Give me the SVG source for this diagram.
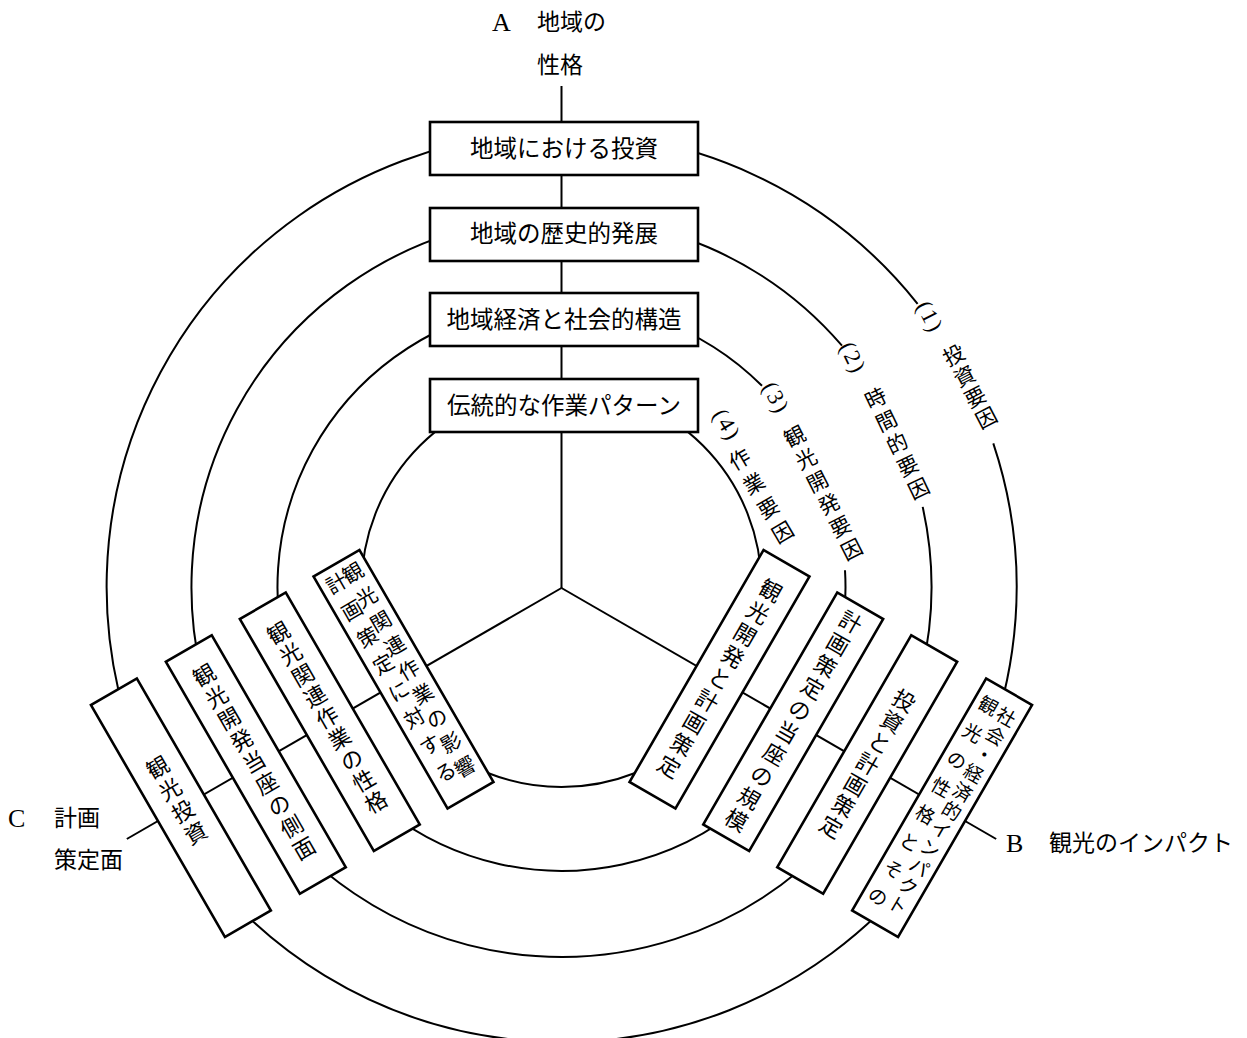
<svg xmlns="http://www.w3.org/2000/svg" width="1247" height="1038" viewBox="0 0 1247 1038">
<style>
.ring{fill:none;stroke:#000;stroke-width:2}
.spoke{fill:none;stroke:#000;stroke-width:2}
.box{fill:#fff;stroke:#000;stroke-width:2.6}
text{font-family:"Liberation Serif","Noto Sans CJK JP",serif;fill:#000}
.t{font-size:23.5px;text-anchor:middle;dominant-baseline:central}
.v{font-size:22px;text-anchor:middle;dominant-baseline:central}
.v2{font-size:19px;text-anchor:middle;dominant-baseline:central}
.v3{font-size:20.5px;text-anchor:middle;dominant-baseline:central}
.lab{font-size:21px;text-anchor:middle;dominant-baseline:central}
.num{font-size:23px;text-anchor:middle;dominant-baseline:central;letter-spacing:2px}
.head{font-size:23px;dominant-baseline:central}
.lat{font-size:26px}
</style>
<rect width="1247" height="1038" fill="#fff"/>

<g id="connectors">
  <path class="ring" d="M993.3 443.4 A455 455 0 1 1 917.6 303.8"/>
  <path class="ring" d="M922.7 506.9 A370 370 0 1 1 842.0 345.7"/>
  <path class="ring" d="M845.0 570.2 A284 284 0 1 1 762.0 385.8"/>
  <circle class="ring" cx="561.5" cy="587" r="200"/>
  <line class="spoke" x1="561.5" y1="588" x2="561.5" y2="86"/>
  <line class="spoke" x1="561.5" y1="588" x2="996.2" y2="839"/>
  <line class="spoke" x1="561.5" y1="588" x2="126.8" y2="839"/>
</g>

<g id="a1"><rect class="box" x="430" y="122" width="268" height="53"/><text class="t" x="564" y="148.5">地域における投資</text></g>
<g id="a2"><rect class="box" x="430" y="208" width="268" height="53"/><text class="t" x="564" y="234">地域の歴史的発展</text></g>
<g id="a3"><rect class="box" x="430" y="293" width="268" height="53"/><text class="t" x="564" y="319.5">地域経済と社会的構造</text></g>
<g id="a4"><rect class="box" x="430" y="379" width="268" height="53"/><text class="t" x="564" y="405.5">伝統的な作業パターン</text></g>

<g id="b1" transform="translate(942.1,807.75) rotate(30)">
  <rect class="box" x="-26.5" y="-134" width="53" height="268"/>
  <text class="v2" x="10 10 10 10 10 10 10 10 10 10 10" y="-110 -88.3 -66.6 -44.9 -23.2 -1.5 20.2 41.9 63.6 85.3 107">社会・経済的インパクト</text>
  <text class="v2" x="-11 -11 -11 -11 -11 -11 -11 -11" y="-111 -79.5 -48 -16.5 15 46.5 78 109.5">観光の性格とその</text>
</g>
<g id="b2" transform="translate(867.2,764.5) rotate(30)">
  <rect class="box" x="-26.5" y="-134" width="53" height="268"/>
  <text class="v" x="0 0 0 0 0 0 0" y="-72.9 -48.6 -24.3 0 24.3 48.6 72.9">投資と計画策定</text>
</g>
<g id="b3" transform="translate(793.2,721.75) rotate(30)">
  <rect class="box" x="-26.5" y="-134" width="53" height="268"/>
  <text class="v" x="0 0 0 0 0 0 0 0 0 0" y="-114.3 -88.9 -63.5 -38.1 -12.7 12.7 38.1 63.5 88.9 114.3">計画策定の当座の規模</text>
</g>
<g id="b4" transform="translate(719.5,679.25) rotate(30)">
  <rect class="box" x="-26.5" y="-134" width="53" height="268"/>
  <text class="v" x="0 0 0 0 0 0 0 0 0" y="-101.6 -76.2 -50.8 -25.4 0 25.4 50.8 76.2 101.6">観光開発と計画策定</text>
</g>

<g id="c1" transform="translate(180.9,807.75) rotate(-30)">
  <rect class="box" x="-26.5" y="-134" width="53" height="268"/>
  <text class="v" x="0 0 0 0" y="-45.8 -20.5 4.8 30.1">観光投資</text>
</g>
<g id="c2" transform="translate(255.8,764.5) rotate(-30)">
  <rect class="box" x="-26.5" y="-134" width="53" height="268"/>
  <text class="v" x="0 0 0 0 0 0 0 0 0" y="-102.4 -77.4 -52.4 -27.4 -2.4 22.6 47.6 72.6 97.6">観光開発当座の側面</text>
</g>
<g id="c3" transform="translate(329.8,721.75) rotate(-30)">
  <rect class="box" x="-26.5" y="-134" width="53" height="268"/>
  <text class="v" x="0 0 0 0 0 0 0 0 0" y="-102 -77.6 -53.2 -28.8 -4.4 20 44.4 68.8 93.2">観光関連作業の性格</text>
</g>
<g id="c4" transform="translate(403.5,679.25) rotate(-30)">
  <rect class="box" x="-26.5" y="-134" width="53" height="268"/>
  <text class="v3" x="9.4 9.4 9.4 9.4 9.4 9.4 9.4 9.4 9.4" y="-117 -89 -61 -33 -5 23 51 79 107">観光関連作業の影響</text>
  <text class="v3" x="-10 -10 -10 -10 -10 -10 -10 -10" y="-116 -84.9 -53.7 -22.6 8.6 39.7 70.9 102">計画策定に対する</text>
</g>

<g id="ring-labels">
  <text class="num" transform="translate(930,317) rotate(62.5)">(1)</text>
  <text class="lab" transform="translate(954,356) rotate(-27.5)" x="0 0 0 0" y="0 23.5 47 70.5">投資要因</text>
  <text class="num" transform="translate(853,358) rotate(64.5)">(2)</text>
  <text class="lab" transform="translate(876,399) rotate(-25.5)" x="0 0 0 0 0" y="0 25 50 75 100">時間的要因</text>
  <text class="num" transform="translate(776,398) rotate(63)">(3)</text>
  <text class="lab" transform="translate(795,437) rotate(-26.8)" x="0 0 0 0 0 0" y="0 25.3 50.6 75.9 101.2 126.5">観光開発要因</text>
  <text class="num" transform="translate(727,425) rotate(59)">(4)</text>
  <text class="lab" transform="translate(740,460) rotate(-30.5)" x="0 0 0 0" y="0 28.2 56.4 84.6">作業要因</text>
</g>

<g id="axis-labels">
  <text class="head" x="492" y="22"><tspan class="lat">A</tspan><tspan x="537">地域の</tspan></text>
  <text class="head" x="537" y="65">性格</text>
  <text class="head" x="1006" y="843"><tspan class="lat">B</tspan><tspan x="1049">観光のインパクト</tspan></text>
  <text class="head" x="8" y="818"><tspan class="lat">C</tspan><tspan x="54">計画</tspan></text>
  <text class="head" x="54" y="860">策定面</text>
</g>
</svg>
